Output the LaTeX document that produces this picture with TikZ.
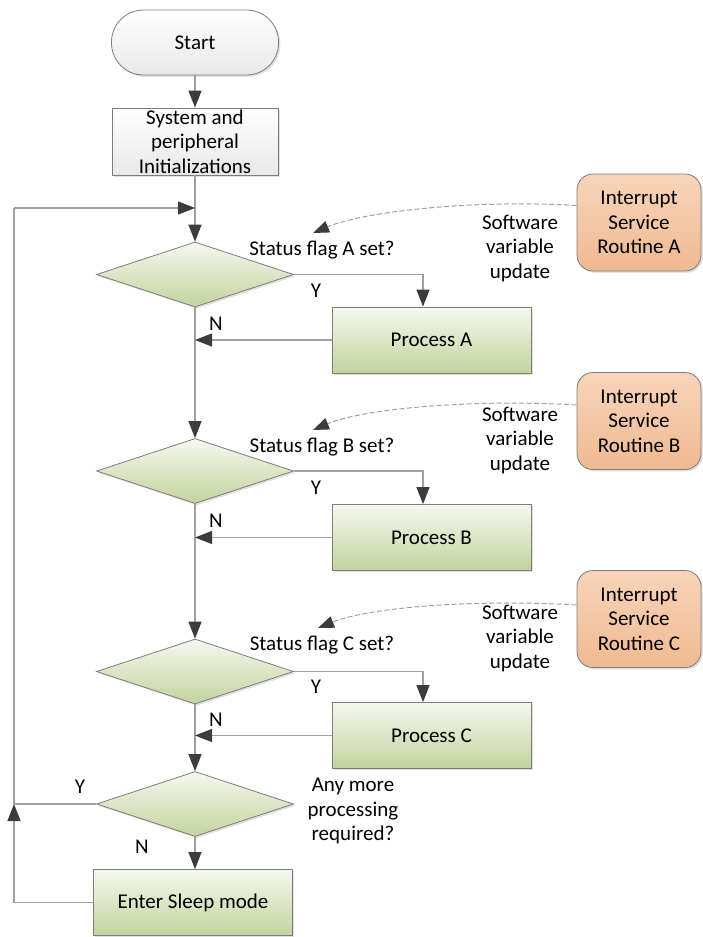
\documentclass[tikz,border=0pt]{standalone}
\usepackage{fontspec}
\setmainfont{Carlito}
\usetikzlibrary{shapes.geometric,arrows.meta,shadows}

\definecolor{lineGray}{RGB}{160,160,160}
\definecolor{tipGray}{RGB}{60,60,60}
\definecolor{edgeGray}{RGB}{125,125,125}
\definecolor{greenTop}{RGB}{245,248,238}
\definecolor{greenBot}{RGB}{195,211,158}
\definecolor{orangeTop}{RGB}{248,212,186}
\definecolor{orangeBot}{RGB}{240,186,145}
\definecolor{greyTop}{RGB}{255,255,255}
\definecolor{greyBot}{RGB}{232,232,232}

\tikzset{
  shape base/.style={draw=edgeGray, line width=0.8pt, align=center, inner sep=0pt,
    drop shadow={shadow xshift=1.8pt, shadow yshift=-1.8pt, opacity=0.25}},
  terminal/.style={shape base, rectangle, rounded corners=32pt, minimum width=167pt,
    minimum height=65pt, top color=greyTop, bottom color=greyBot},
  initbox/.style={shape base, rectangle, minimum width=166pt, minimum height=67pt,
    top color=greyTop, bottom color=greyBot},
  proc/.style={shape base, rectangle, minimum width=199pt, minimum height=66pt,
    top color=greenTop, bottom color=greenBot},
  decision/.style={shape base, diamond, aspect=3, minimum width=197pt, minimum height=65pt,
    top color=greenTop, bottom color=greenBot},
  isr/.style={shape base, rectangle, rounded corners=16pt, minimum width=124pt,
    minimum height=97pt, top color=orangeTop, bottom color=orangeBot},
  lbl/.style={align=center, inner sep=0pt},
  flow/.style={draw=lineGray, line width=1.3pt,
    -{Triangle[length=17pt,width=13pt,fill=tipGray,color=tipGray]}},
  link/.style={draw=lineGray, line width=1.3pt},
  sigline/.style={draw=lineGray, line width=1pt, dash pattern=on 5pt off 2.5pt,
    -{Triangle[length=16pt,width=12pt,fill=tipGray,color=tipGray]}},
}

\begin{document}
\begin{tikzpicture}[x=1pt, y=-1pt, font=\fontsize{21}{24.5}\selectfont]
  \useasboundingbox (0,0) rectangle (702,937);

  % main column
  \node[terminal] (start) at (195,42.5) {Start};
  \node[initbox]  (init)  at (195,141.5) {System and\\peripheral\\Initializations};
  \coordinate (loopJ) at (195,208);

  % block A
  \node[decision] (dA)   at (195,274.5) {};
  \node[proc]     (pA)   at (431.5,340) {Process A};
  \node[isr]      (isrA) at (639,222.5) {Interrupt\\Service\\Routine A};
  \node[lbl] (stA) at (322,250) {Status flag A set?};
  \node[lbl] (swA) at (520,248) {Software\\variable\\update};
  \node[lbl] (yA)  at (316,291) {Y};
  \node[lbl] (nA)  at (216,324) {N};
  \coordinate (tipA) at (313,233);

  % block B
  \node[decision] (dB)   at (195,471) {};
  \node[proc]     (pB)   at (431.5,537.5) {Process B};
  \node[isr]      (isrB) at (639,421) {Interrupt\\Service\\Routine B};
  \node[lbl] (stB) at (322,447) {Status flag B set?};
  \node[lbl] (swB) at (520,440) {Software\\variable\\update};
  \node[lbl] (yB)  at (316,488) {Y};
  \node[lbl] (nB)  at (216,521) {N};
  \coordinate (tipB) at (313,430);

  % block C
  \node[decision] (dC)   at (195,671.5) {};
  \node[proc]     (pC)   at (431.5,735.5) {Process C};
  \node[isr]      (isrC) at (639,619) {Interrupt\\Service\\Routine C};
  \node[lbl] (stC) at (322,645) {Status flag C set?};
  \node[lbl] (swC) at (520,638) {Software\\variable\\update};
  \node[lbl] (yC)  at (316,687) {Y};
  \node[lbl] (nC)  at (216,720) {N};
  \coordinate (tipC) at (318,628);

  % end of loop
  \node[decision] (dMore) at (195,804) {};
  \node[proc]     (sleep) at (193,902.5) {Enter Sleep mode};
  \node[lbl] (askMore) at (353,811) {Any more\\processing\\required?};
  \node[lbl] (yMore) at (80,787) {Y};
  \node[lbl] (nMore) at (142,847) {N};
  \coordinate (loopB) at (14,804);
  \coordinate (loopT) at (14,208);

  % connectors
  \draw[flow] (start) -- (init);
  \draw[flow] (init) -- (dA);
  \draw[flow] (dA.south) -- (dB.north);
  \draw[flow] (dB.south) -- (dC.north);
  \draw[flow] (dC.south) -- (dMore.north);
  \draw[flow] (dMore.south) -- (sleep.north -| dMore.south);

  \draw[flow] (dA.east) -| ([xshift=-8.5pt]pA.north);
  \draw[flow] (dB.east) -| ([xshift=-8.5pt]pB.north);
  \draw[flow] (dC.east) -| ([xshift=-8.5pt]pC.north);

  \draw[flow] (pA.west) -- (pA.west -| dA.south);
  \draw[flow] (pB.west) -- (pB.west -| dB.south);
  \draw[flow] (pC.west) -- (pC.west -| dC.south);

  \draw[flow] (sleep.west) -| (loopB);
  \draw[link] (dMore.west) -- (loopB) -- (loopT);
  \draw[flow] (loopT) -- (loopJ);

  % software updates from the ISRs
  \draw[sigline] ([yshift=17pt]isrA.west) .. controls +(-100,-6) and (365,211) .. (tipA);
  \draw[sigline] ([yshift=16pt]isrB.west) .. controls +(-100,-6) and (365,408) .. (tipB);
  \draw[sigline] ([yshift=14pt]isrC.west) .. controls +(-100,-6) and (370,607) .. (tipC);
\end{tikzpicture}
\end{document}
